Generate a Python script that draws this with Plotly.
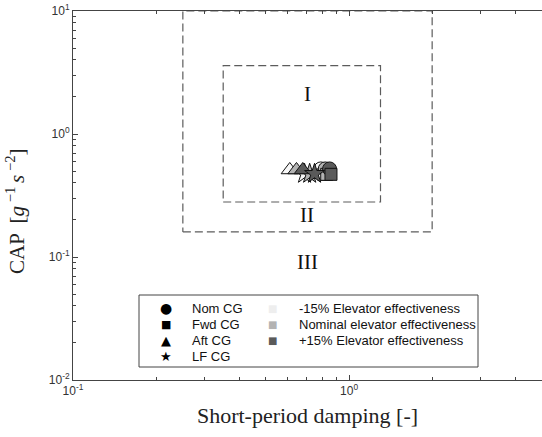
import math
import plotly.graph_objects as go

# Short-period damping ratio and CAP for each CG case, at three elevator effectiveness levels
effectiveness_names = ["-15% Elevator effectiveness", "Nominal elevator effectiveness", "+15% Elevator effectiveness"]
effectiveness_colors = ["#f7f7f7", "#b3b3b3", "#5a5a5a"]
effectiveness_key_colors = ["#eeeeee", "#b3b3b3", "#5a5a5a"]

cg_names = ["Nom CG", "Fwd CG", "Aft CG", "LF CG"]
cg_symbols = ["circle", "square", "triangle-up", "star"]
cg_glyphs = ["●", "■", "▲", "★"]

# damping ratio [-] per CG case, ordered -15%, nominal, +15%
damping_nom = [0.79, 0.82, 0.85]
damping_fwd = [0.81, 0.83, 0.86]
damping_aft = [0.61, 0.645, 0.68]
damping_lf = [0.69, 0.72, 0.75]

# CAP [1/(g s^2)] per CG case, ordered -15%, nominal, +15%
cap_nom = [0.52, 0.52, 0.52]
cap_fwd = [0.47, 0.47, 0.47]
cap_aft = [0.51, 0.51, 0.51]
cap_lf = [0.475, 0.475, 0.475]

damping = [damping_nom, damping_fwd, damping_aft, damping_lf]
cap = [cap_nom, cap_fwd, cap_aft, cap_lf]

# Flying-quality level boundaries (damping range, CAP range)
level1_damping = [0.35, 1.3]
level1_cap = [0.28, 3.6]
level2_damping = [0.25, 2.0]
level2_cap = [0.16, 10.0]

region_labels = ["I", "II", "III"]
region_x = [0.705, 0.705, 0.705]
region_y = [2.1, 0.218, 0.091]

x_range = [0.1, 5.0]
y_range = [0.01, 10.0]
x_tickvals = [0.1, 1.0]
x_ticktext = ["10<sup>-1</sup>", "10<sup>0</sup>"]
y_tickvals = [0.01, 0.1, 1.0, 10.0]
y_ticktext = ["10<sup>-2</sup>", "10<sup>-1</sup>", "10<sup>0</sup>", "10<sup>1</sup>"]
x_minor = [0.2, 0.3, 0.4, 0.5, 0.6, 0.7, 0.8, 0.9, 2, 3, 4, 5]
y_minor = [k * 10.0 ** e for e in (-2, -1, 0) for k in range(2, 10)]

marker_sizes = {"circle": 14, "square": 12, "triangle-up": 15, "star": 15}

W, H = 542, 437
ML, MR, MT, MB = 73, 0, 11, 57
PW, PH = W - ML - MR, H - MT - MB


def px_x(p):
    return (p - ML) / PW


def px_y(p):
    return 1 - (p - MT) / PH


fig = go.Figure()


def box(xs, ys):
    return [xs[0], xs[1], xs[1], xs[0], xs[0]], [ys[0], ys[0], ys[1], ys[1], ys[0]]


for xs, ys in ((level2_damping, level2_cap), (level1_damping, level1_cap)):
    bx, by = box(xs, ys)
    fig.add_trace(go.Scatter(x=bx, y=by, mode="lines", showlegend=False, hoverinfo="skip",
                             line=dict(color="#5c5c5c", width=1.2, dash="8px,4px")))

for j, col in enumerate(effectiveness_colors):
    for i, sym in enumerate(cg_symbols):
        fig.add_trace(go.Scatter(
            x=[damping[i][j]], y=[cap[i][j]], mode="markers", showlegend=False,
            name=f"{cg_names[i]}, {effectiveness_names[j]}",
            marker=dict(symbol=sym, size=marker_sizes[sym], color=col,
                        line=dict(color="#111111", width=1)),
        ))

for t, x, y in zip(region_labels, region_x, region_y):
    fig.add_annotation(x=math.log10(x), y=math.log10(y), xref="x", yref="y", text=t, showarrow=False,
                       font=dict(family="Liberation Serif", size=21, color="#111111"))

# key box: CG symbols on the left, elevator effectiveness shades on the right
key_font = dict(family="Liberation Sans", size=13, color="#111111")
row_y = [308, 324, 340, 356]
glyph_sizes = [14, 11, 13, 13]
for k, (name, glyph) in enumerate(zip(cg_names, cg_glyphs)):
    fig.add_annotation(x=px_x(166), y=px_y(row_y[k]), xref="paper", yref="paper", text=glyph,
                       showarrow=False, xanchor="center", yanchor="middle",
                       font=dict(family="DejaVu Sans", size=glyph_sizes[k], color="black"))
    fig.add_annotation(x=px_x(190), y=px_y(row_y[k]), xref="paper", yref="paper", text=name,
                       showarrow=False, xanchor="left", yanchor="middle", font=key_font)
for k, (name, col) in enumerate(zip(effectiveness_names, effectiveness_key_colors)):
    fig.add_annotation(x=px_x(272), y=px_y(row_y[k]), xref="paper", yref="paper", text="■",
                       showarrow=False, xanchor="center", yanchor="middle",
                       font=dict(family="DejaVu Sans", size=10, color=col))
    fig.add_annotation(x=px_x(297), y=px_y(row_y[k]), xref="paper", yref="paper", text=name,
                       showarrow=False, xanchor="left", yanchor="middle", font=key_font)

# vertical axis title
fig.add_annotation(x=px_x(16), y=px_y(211), xref="paper", yref="paper", textangle=-90,
                   text="CAP  [<i>g</i><sup> −1 </sup><i>s</i><sup> −2</sup>]", showarrow=False,
                   xanchor="center", yanchor="middle",
                   font=dict(family="Liberation Serif", size=21, color="#222222"))

axis_common = dict(type="log", ticks="inside", ticklen=5, tickcolor="#444444", showgrid=False,
                   zeroline=False, showline=True, linecolor="#444444", linewidth=1,
                   tickfont=dict(family="Liberation Sans", size=12, color="#333333"))

fig.update_xaxes(range=[math.log10(x_range[0]), math.log10(x_range[1])], tickmode="array",
                 tickvals=x_tickvals, ticktext=x_ticktext, mirror="ticks",
                 minor=dict(tickmode="array", tickvals=x_minor, ticks="inside", ticklen=3,
                            tickcolor="#444444", showgrid=False),
                 title=dict(text="Short-period damping [-]", standoff=10,
                            font=dict(family="Liberation Serif", size=22, color="#222222")),
                 **axis_common)
fig.update_yaxes(range=[math.log10(y_range[0]), math.log10(y_range[1])], tickmode="array",
                 tickvals=y_tickvals, ticktext=y_ticktext,
                 minor=dict(tickmode="array", tickvals=y_minor, ticks="inside", ticklen=3,
                            tickcolor="#444444", showgrid=False),
                 **axis_common)

fig.update_layout(
    width=W, height=H,
    margin=dict(l=ML, r=MR, t=MT, b=MB),
    paper_bgcolor="white", plot_bgcolor="white",
    showlegend=False,
    shapes=[dict(type="rect", xref="paper", yref="paper", x0=px_x(139), x1=px_x(478),
                 y0=px_y(367), y1=px_y(295),
                 line=dict(color="#444444", width=1), fillcolor="white", layer="above")],
)

fig.write_html("out.html")
